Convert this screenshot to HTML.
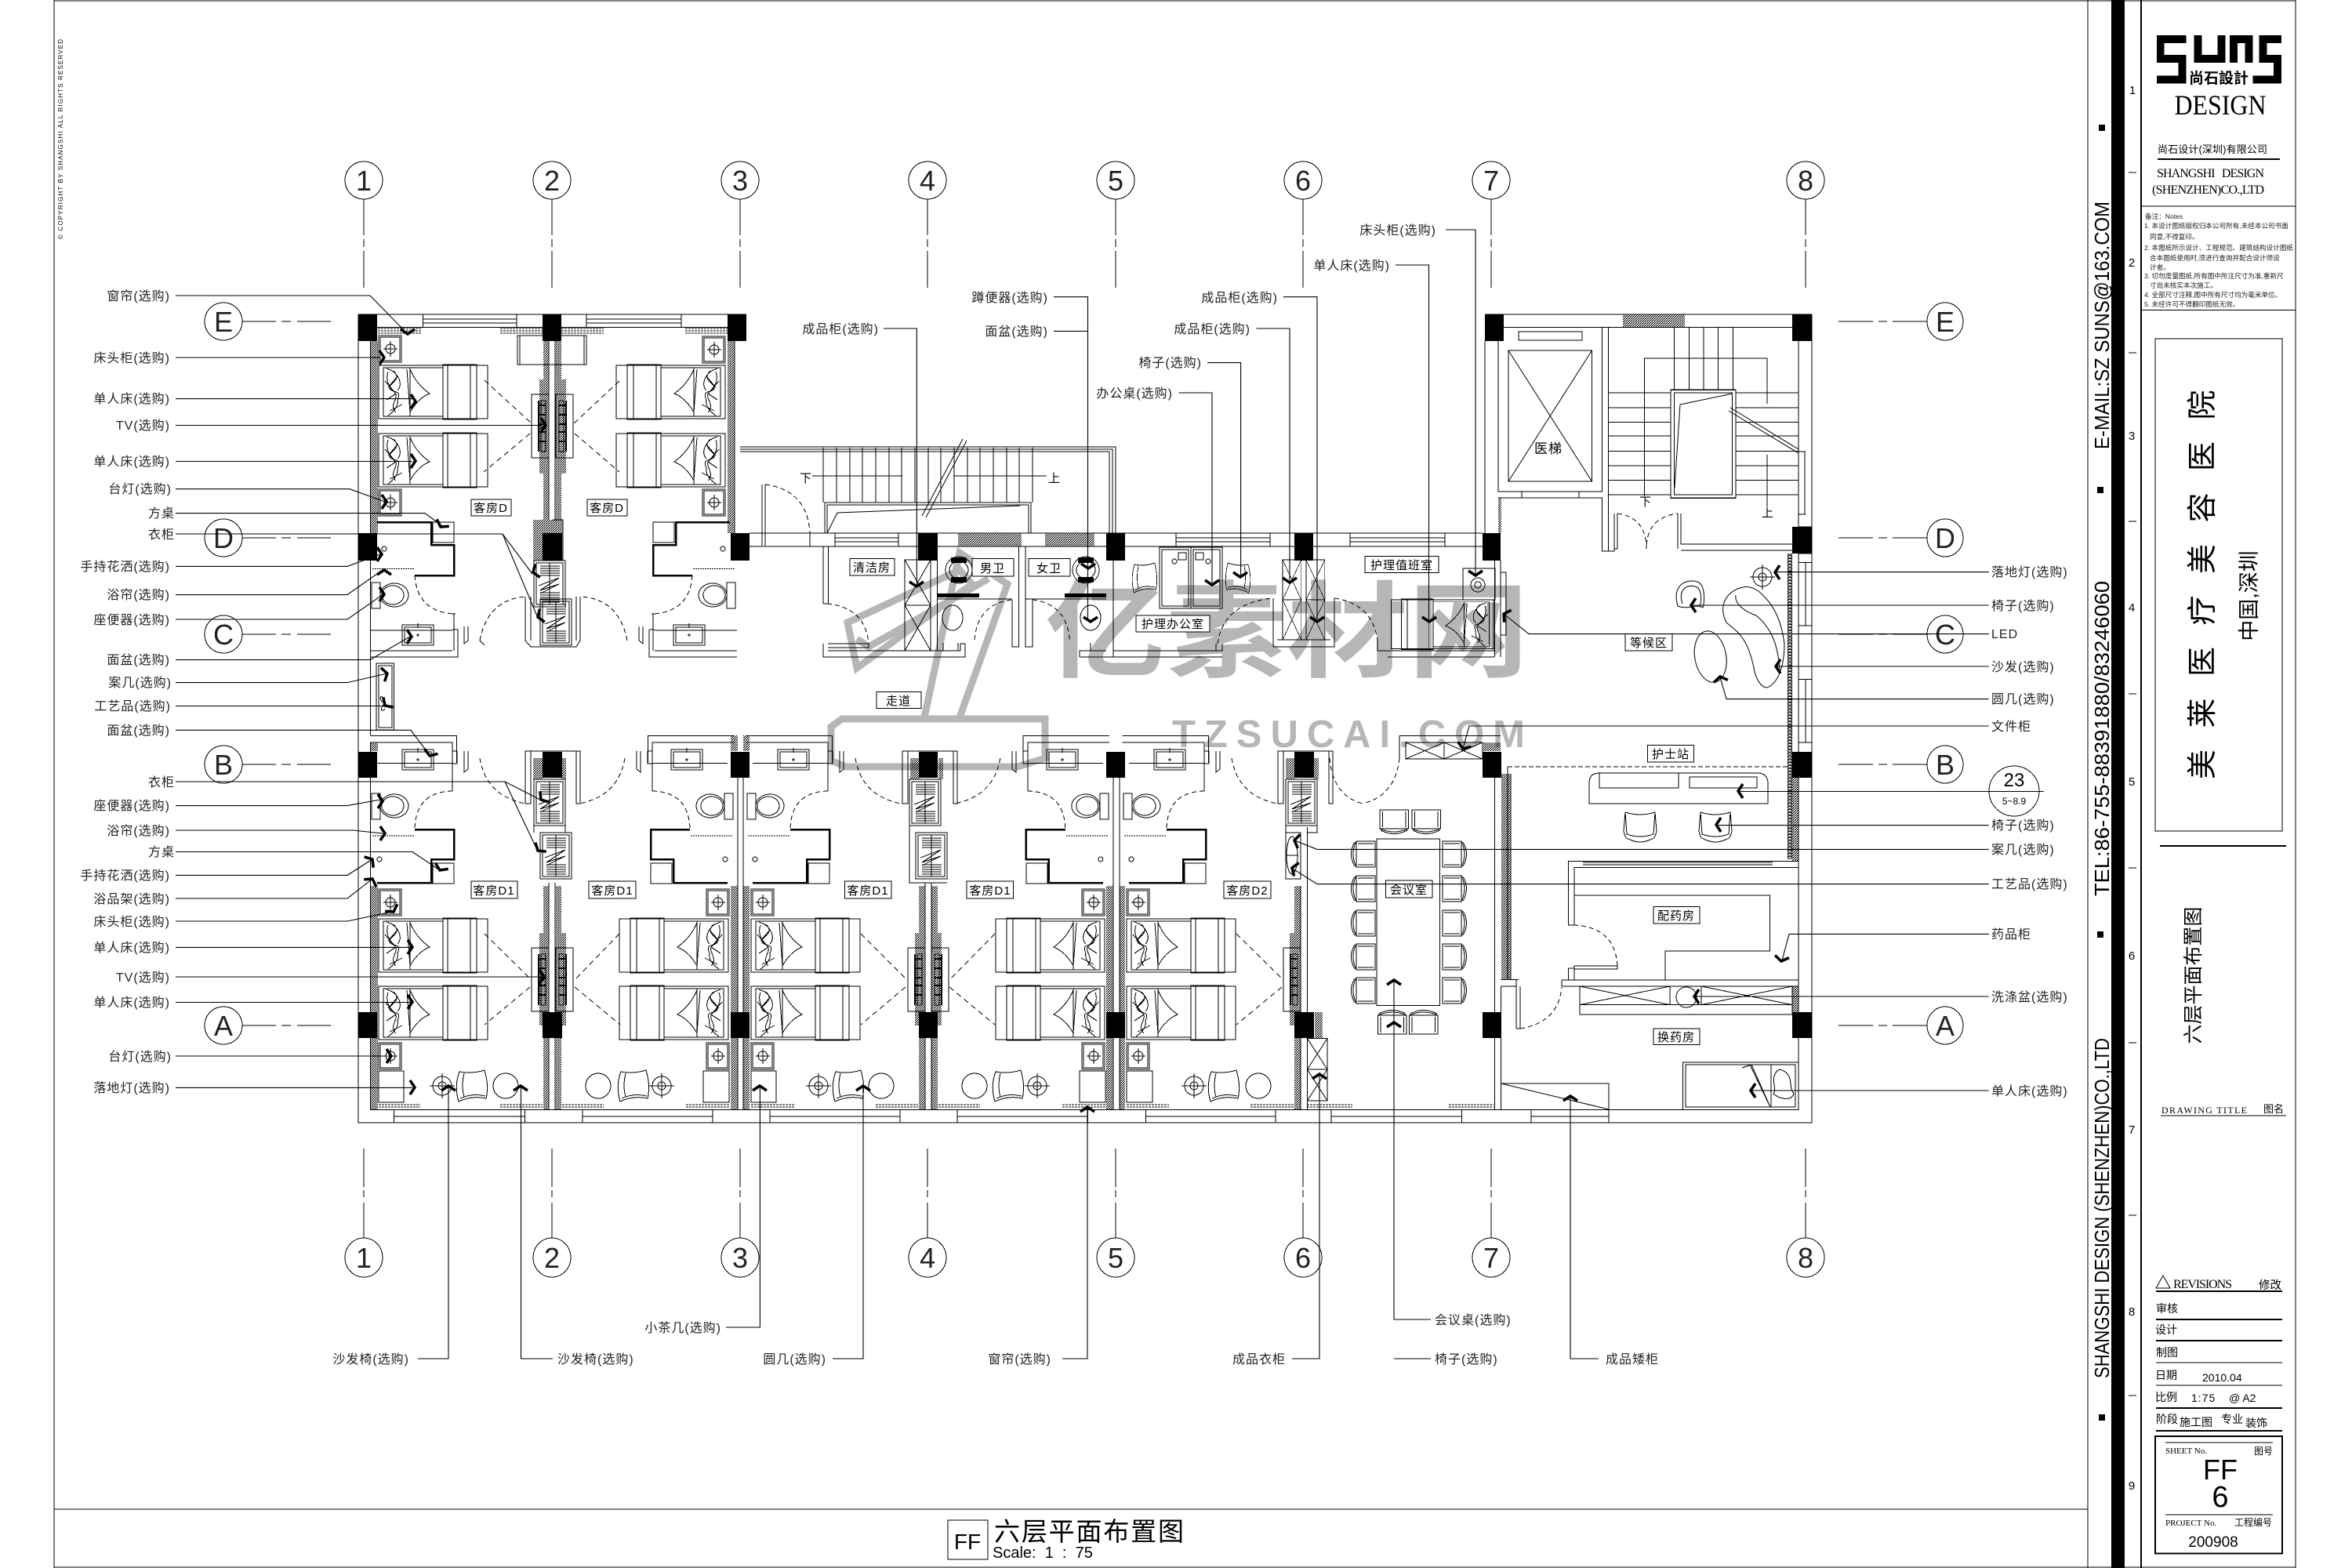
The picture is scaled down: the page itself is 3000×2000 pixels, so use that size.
<!DOCTYPE html>
<html lang="zh">
<head>
<meta charset="utf-8">
<title>六层平面布置图</title>
<style>
html,body{margin:0;padding:0;background:#fff}
svg{display:block}
text{font-family:"Liberation Sans","Noto Sans CJK SC",sans-serif;fill:#000;stroke:none}
.l{font-size:16px;letter-spacing:1px;text-anchor:end;fill:#222}
.s{font-size:16px;letter-spacing:1px;fill:#222}
.r{font-size:15px;letter-spacing:1px;text-anchor:middle}
.g{font-size:36px;text-anchor:middle;fill:#222}
.serif{font-family:"Liberation Serif","Noto Serif CJK SC",serif}
.n{font-size:8.6px;fill:#222}
.t{font-size:14px}
</style>
</head>
<body>
<svg xmlns="http://www.w3.org/2000/svg" width="3000" height="2000" viewBox="0 0 3000 2000" fill="none" stroke="#000" stroke-width="1" shape-rendering="crispEdges">
<defs>
<pattern id="h" width="3" height="3" patternUnits="userSpaceOnUse"><path d="M0 3L3 0" stroke="#000" stroke-width="1"/></pattern>
<pattern id="q" width="6" height="4" patternUnits="userSpaceOnUse"><rect x=".5" y=".5" width="5" height="2.5" stroke="#000" stroke-width="1" fill="none"/></pattern>
<g id="ar"><path d="M-6 -9L0 0L-6 9" stroke-width="3.5"/></g>
<g id="bed">
<rect x="0" y="0" width="139" height="68"/><rect x="6" y="3" width="76" height="62"/>
<rect x="82" y="-1" width="43" height="70"/><path d="M88 -1V69M117 -1V69"/>
<path d="M40 3V65M40 5Q48 24 65 36Q50 42 40 60M36 5L40 60"/>
<path d="M10 4L20 8C30 20 12 22 14 30C18 36 30 30 24 44C26 52 18 60 12 64M12 8C8 18 14 30 20 34C28 40 12 50 22 60M8 20L22 36L10 44M16 6C28 14 30 26 24 32M14 58L30 50M24 14L12 28"/>
</g>
<g id="ns"><rect x="0" y="0" width="29" height="34"/><rect x="2" y="2" width="25" height="30"/><circle cx="15" cy="17" r="6"/><path d="M15 7V27M6 17H24"/></g>
<g id="ach"><path d="M4 2Q20 5 36 0Q42 20 38 36Q20 32 3 40Q-3 20 4 2Z"/><path d="M10 4Q6 20 10 34M5 36Q20 29 37 33"/></g>
<g id="lmp"><circle cx="0" cy="0" r="12"/><circle cx="0" cy="0" r="5"/><path d="M-16 0H16M0 -16V16"/></g>
<g id="toi"><rect x="0" y="0" width="11" height="33"/><ellipse cx="29" cy="16" rx="18" ry="15"/><ellipse cx="27" cy="16" rx="14" ry="12"/></g>
<g id="snk"><rect x="0" y="0" width="40" height="26"/><rect x="3" y="3" width="34" height="20"/><path d="M20 11V15M18 13H22M20 -2V4"/></g>
<g id="wr"><rect x="0" y="0" width="40" height="59"/><rect x="3" y="3" width="34" height="53"/>
<path d="M8 7H33M8 10H33M8 13H33M8 16H33M8 19H33M8 41H33M8 44H33M8 47H33M8 50H33M8 53H33M20 3V56M6 32L32 22L8 38L32 30L8 42"/></g>
<g id="tv"><rect x="0" y="0" width="22" height="81"/><rect x="12" y="8" width="6" height="65"/><path d="M10 14H18M10 26H18M10 38H18M10 48H18M10 60H18M9 8V73" stroke-width="2"/></g>
<g id="cc"><path d="M8 1H32V34H8Z"/><path d="M8 1Q0 17 8 34M6 2Q-3 17 6 33M10 4H30M10 31H30"/></g>
<g id="ch"><path d="M2 2Q21 8 40 2L38 30Q21 36 4 30Z"/><path d="M0 26Q2 36 6 36Q21 44 36 36Q40 36 42 26M0 26L2 2M42 26L40 2"/></g>
<g id="xc"><rect x="0" y="0" width="33" height="116"/><path d="M0 0L33 58L0 116M33 0L0 58L33 116M0 58H33"/></g>
<g id="tb">
<path d="M481 666H550V695H579V734H529" stroke-width="2.5"/>
<rect x="552" y="666" width="27" height="26"/>
<path d="M475 725.5H529" stroke-dasharray="2 1"/>
<path d="M529 734Q532 780 579 783" stroke-dasharray="6 4"/>
<path d="M579 783V830M472 804H577M472 830H577M472 838H584V803M577 783H581M577 803H584"/>
<path d="M592 799V821L597 817V799"/>
<use href="#snk" x="513" y="797"/>
<use href="#toi" transform="translate(474,743)"/>
<path d="M612 817Q622 765 670 761" stroke-dasharray="6 4"/>
<circle cx="490" cy="700" r="3"/>
</g>
<g id="bb">
<path d="M472.6 938.7H582.6V973M472.6 947H577V1009M481 973.6H577M577 958H583V974H577"/>
<path d="M592 958V985L597 981V958"/>
<use href="#snk" x="513" y="956"/>
<use href="#toi" transform="translate(474,1012)"/>
<path d="M577 1009Q530 1010 529 1058" stroke-dasharray="6 4"/>
<path d="M529 1058H579V1096H550V1126H481" stroke-width="2.5"/>
<rect x="552" y="1101" width="27" height="26"/>
<path d="M475 1066H529" stroke-dasharray="2 1"/>
<path d="M612 967Q620 1015 670 1025" stroke-dasharray="6 4"/>
<circle cx="484" cy="1096" r="3"/>
</g>
<g id="lf">
<rect x="670" y="958" width="7" height="67"/><rect x="735" y="958" width="5" height="67"/>
<path d="M670 958H740" />
<rect x="680" y="967" width="12" height="27" fill="url(#h)" stroke="none"/>
<rect x="716" y="967" width="6" height="27" fill="url(#h)" stroke="none"/>
</g>
</defs>

<!-- watermark -->
<g shape-rendering="geometricPrecision">
<g fill="none" stroke="#b6b6b6" stroke-width="9" stroke-linejoin="miter">
<path d="M1060 927L1074 917H1333V967L1298 978H1078L1060 970Z"/>
<path d="M1179 915L1224 705L1285 745L1224 915"/>
<path d="M1081 794L1224 727L1240 745L1093 852Z"/>
<path d="M1093 815L1108 825L1261 738"/>
</g>
<text transform="translate(1333,853) scale(1,.88)" font-size="152" font-weight="700" textLength="617" lengthAdjust="spacingAndGlyphs" style="fill:#b6b6b6">亿素材网</text>
<text x="1495" y="953" font-size="49" font-weight="700" textLength="450" style="fill:#b6b6b6">TZSUCAI.COM</text>
</g>

<!-- frame -->
<path d="M69 0V2000M69 1H2928M2663 0V2000M69 1925H2663M69 1999H2928M2928 0V2000" stroke-width="1.4"/>
<rect x="2693" y="0" width="17" height="2000" fill="#000" stroke="none"/>
<path d="M2731 0V2000" stroke-width="2.2"/>
<g stroke="none" fill="#000">
<rect x="2677" y="159" width="8" height="8"/><rect x="2675" y="621" width="8" height="8"/><rect x="2675" y="1188" width="8" height="8"/><rect x="2677" y="1804" width="8" height="8"/>
</g>
<g transform="translate(80,305) rotate(-90)"><text x="0" y="0" font-size="8" textLength="255">© COPYRIGHT BY SHANGSHI ALL RIGHTS RESERVED</text></g>
<g font-size="26">
<text transform="translate(2690,1758) rotate(-90)" font-size="26" textLength="434" lengthAdjust="spacingAndGlyphs">SHANGSHI DESIGN (SHENZHEN)CO.,LTD</text>
<text transform="translate(2690,1143) rotate(-90)" font-size="26" textLength="402" lengthAdjust="spacingAndGlyphs">TEL:86-755-88391880/83246060</text>
<text transform="translate(2690,573) rotate(-90)" font-size="26" textLength="316" lengthAdjust="spacingAndGlyphs">E-MAIL:SZ SUNS@163.COM</text>
</g>
<g font-size="15" text-anchor="middle" style="font-size:15px">
<text x="2720" y="120" text-anchor="middle">1</text><text x="2719" y="340" text-anchor="middle">2</text><text x="2719" y="561" text-anchor="middle">3</text><text x="2719" y="780" text-anchor="middle">4</text><text x="2719" y="1002" text-anchor="middle">5</text><text x="2719" y="1224" text-anchor="middle">6</text><text x="2719" y="1446" text-anchor="middle">7</text><text x="2719" y="1678" text-anchor="middle">8</text><text x="2719" y="1900" text-anchor="middle">9</text>
</g>
<path d="M2715 220H2725M2715 450H2725M2715 665H2725M2715 885H2725M2715 1107H2725M2715 1330H2725M2715 1550H2725M2715 1780H2725M2715 1999H2725"/>

<!-- axes -->
<g>
<ellipse cx="464" cy="230" rx="24" ry="24"/><ellipse cx="704" cy="230" rx="24" ry="24"/><ellipse cx="944" cy="230" rx="24" ry="24"/><ellipse cx="1183" cy="230" rx="24" ry="24"/><ellipse cx="1423" cy="230" rx="24" ry="24"/><ellipse cx="1662" cy="230" rx="24" ry="24"/><ellipse cx="1902" cy="230" rx="24" ry="24"/><ellipse cx="2303" cy="230" rx="24" ry="24"/>
<ellipse cx="464" cy="1604" rx="24" ry="25"/><ellipse cx="704" cy="1604" rx="24" ry="25"/><ellipse cx="944" cy="1604" rx="24" ry="25"/><ellipse cx="1183" cy="1604" rx="24" ry="25"/><ellipse cx="1423" cy="1604" rx="24" ry="25"/><ellipse cx="1662" cy="1604" rx="24" ry="25"/><ellipse cx="1902" cy="1604" rx="24" ry="25"/><ellipse cx="2303" cy="1604" rx="24" ry="25"/>
<ellipse cx="285" cy="410" rx="24" ry="24"/><ellipse cx="285" cy="686" rx="24" ry="24"/><ellipse cx="285" cy="809" rx="24" ry="24"/><ellipse cx="285" cy="975" rx="24" ry="24"/><ellipse cx="285" cy="1308" rx="24" ry="24"/>
<ellipse cx="2481" cy="410" rx="23" ry="24"/><ellipse cx="2481" cy="686" rx="23" ry="24"/><ellipse cx="2481" cy="809" rx="23" ry="24"/><ellipse cx="2481" cy="975" rx="23" ry="24"/><ellipse cx="2481" cy="1308" rx="23" ry="24"/>
<path d="M464 254V300M464 305V315M464 320V367M704 254V300M704 305V315M704 320V367M944 254V300M944 305V315M944 320V367M1183 254V300M1183 305V315M1183 320V367M1423 254V300M1423 305V315M1423 320V367M1662 254V300M1662 305V315M1662 320V367M1902 254V300M1902 305V315M1902 320V367M2303 254V300M2303 305V315M2303 320V367"/>
<path d="M464 1465V1514M464 1518V1527M464 1534V1579M704 1465V1514M704 1518V1527M704 1534V1579M944 1465V1514M944 1518V1527M944 1534V1579M1183 1465V1514M1183 1518V1527M1183 1534V1579M1423 1465V1514M1423 1518V1527M1423 1534V1579M1662 1465V1514M1662 1518V1527M1662 1534V1579M1902 1465V1514M1902 1518V1527M1902 1534V1579M2303 1465V1514M2303 1518V1527M2303 1534V1579"/>
<path d="M309 410H352M359 410H371M379 410H422M309 686H352M359 686H371M379 686H422M309 809H352M359 809H371M379 809H422M309 975H352M359 975H371M379 975H422M309 1308H352M359 1308H371M379 1308H422"/>
<path d="M2345 410H2389M2396 410H2407M2414 410H2458M2345 686H2389M2396 686H2407M2414 686H2458M2345 809H2389M2396 809H2407M2414 809H2458M2345 975H2389M2396 975H2407M2414 975H2458M2345 1308H2389M2396 1308H2407M2414 1308H2458"/>
</g>
<g class="ax">
<text class="g" x="464" y="243">1</text><text class="g" x="704" y="243">2</text><text class="g" x="944" y="243">3</text><text class="g" x="1183" y="243">4</text><text class="g" x="1423" y="243">5</text><text class="g" x="1662" y="243">6</text><text class="g" x="1902" y="243">7</text><text class="g" x="2303" y="243">8</text>
<text class="g" x="464" y="1617">1</text><text class="g" x="704" y="1617">2</text><text class="g" x="944" y="1617">3</text><text class="g" x="1183" y="1617">4</text><text class="g" x="1423" y="1617">5</text><text class="g" x="1662" y="1617">6</text><text class="g" x="1902" y="1617">7</text><text class="g" x="2303" y="1617">8</text>
<text class="g" x="285" y="423">E</text><text class="g" x="285" y="699">D</text><text class="g" x="285" y="822">C</text><text class="g" x="285" y="988">B</text><text class="g" x="285" y="1321">A</text>
<text class="g" x="2481" y="423">E</text><text class="g" x="2481" y="699">D</text><text class="g" x="2481" y="822">C</text><text class="g" x="2481" y="988">B</text><text class="g" x="2481" y="1321">A</text>
</g>

<!-- outer walls -->
<path d="M457 401H952M472.6 417.5H928M457 401V1432H2311V401M472.6 435V938M472.6 947V1415.5H2294M1894 401H2311M1918 417.5H2286M2294 435V1415.5"/>
<!-- top windows -->
<path d="M539.5 401V417.5M659 401V417.5M539.5 407H659M539.5 412H659M748 401V417.5M869 401V417.5M748 407H869M748 412H869"/>
<!-- bottom windows -->
<path d="M502.5 1415.5V1432M669.6 1415.5V1432M502.5 1424H669.6M743 1415.5V1432M909 1415.5V1432M743 1424H909M982 1415.5V1432M1148 1415.5V1432M982 1424H1148M1221 1415.5V1432M1387.5 1415.5V1432M1221 1424H1387.5M1461.5 1415.5V1432M1627 1415.5V1432M1461.5 1424H1627M1698 1415.5V1432M1864.5 1415.5V1432M1698 1424H1864.5M1953 1415.5V1432M2052 1382V1432M1953 1424H2052"/>
<!-- curtains -->
<g stroke-dasharray="3 1" >
<path d="M482 419H537M482 422H537M482 425H537M638 419H692M638 422H692M638 425H692M716 419H770M716 422H770M716 425H770M874 419H928M874 422H928M874 425H928"/>
<path d="M483 1409H536M483 1412H536M638 1409H692M638 1412H692M717 1409H770M717 1412H770M875 1409H931M875 1412H931M958 1409H1013M958 1412H1013M1117 1409H1171M1117 1412H1171M1197 1409H1250M1197 1412H1250M1355 1409H1410M1355 1412H1410M1437 1409H1491M1437 1412H1491M1595 1409H1650M1595 1412H1650M1667 1409H1725M1667 1412H1725M1848 1409H1905M1848 1412H1905"/>
</g>
<!-- hatch walls -->
<g fill="url(#h)" stroke="none">
<rect x="473" y="435" width="9" height="245"/><rect x="473" y="1130" width="9" height="285"/>
<rect x="693" y="435" width="7" height="228"/><rect x="709" y="435" width="7" height="228"/>
<rect x="688" y="484" width="12" height="120"/><rect x="709" y="484" width="13" height="120"/>
<rect x="680" y="663" width="38" height="52"/>
<rect x="928" y="435" width="9" height="245"/>
<rect x="693" y="1130" width="7" height="285"/><rect x="709" y="1130" width="7" height="285"/>
<rect x="688" y="1190" width="12" height="118"/><rect x="709" y="1190" width="13" height="118"/>
<rect x="932" y="1130" width="9" height="285"/><rect x="948" y="1130" width="8" height="285"/>
<rect x="1172" y="1130" width="8" height="285"/><rect x="1188" y="1130" width="8" height="285"/>
<rect x="1167" y="1190" width="13" height="118"/><rect x="1188" y="1190" width="13" height="118"/>
<rect x="1411" y="1130" width="9" height="285"/><rect x="1428" y="1130" width="7" height="285"/>
<rect x="1651" y="1130" width="8" height="285"/><rect x="1645" y="1190" width="14" height="118"/>
<rect x="1677" y="1291" width="10" height="33"/>
<rect x="1915" y="987" width="12" height="263"/>
<rect x="1222" y="680" width="81" height="17"/><rect x="1333" y="680" width="63" height="17"/>
<rect x="2070" y="401" width="79" height="16.5"/>
<rect x="1911" y="635" width="4" height="45"/>
<rect x="2286" y="991" width="8" height="107"/><rect x="2286" y="1258" width="8" height="33"/>
<rect x="1892" y="947" width="22" height="11"/>
<rect x="932" y="938" width="9" height="20"/><rect x="948" y="938" width="8" height="20"/>
<rect x="473" y="947" width="9" height="11"/>
</g>
<rect x="2280" y="706" width="6" height="390" fill="url(#q)" stroke="none"/>
<!-- columns -->
<g fill="#000" stroke="none">
<rect x="457" y="401" width="24" height="34"/><rect x="692" y="401" width="24" height="34"/><rect x="928" y="401" width="24" height="34"/><rect x="1894" y="401" width="24" height="34"/><rect x="2286" y="401" width="25" height="34"/>
<rect x="457" y="680" width="24" height="35"/><rect x="692" y="680" width="25" height="35"/><rect x="932" y="680" width="24" height="35"/><rect x="1171" y="680" width="25" height="35"/><rect x="1411" y="680" width="24" height="35"/><rect x="1651" y="680" width="24" height="35"/><rect x="1891" y="680" width="23" height="35"/><rect x="2286" y="672" width="25" height="34"/>
<rect x="457" y="959" width="24" height="33"/><rect x="692" y="959" width="25" height="33"/><rect x="932" y="959" width="24" height="33"/><rect x="1172" y="959" width="24" height="33"/><rect x="1411" y="959" width="24" height="33"/><rect x="1651" y="959" width="25" height="33"/><rect x="1891" y="959" width="24" height="33"/><rect x="2286" y="959" width="25" height="33"/>
<rect x="457" y="1291" width="24" height="33"/><rect x="692" y="1291" width="25" height="33"/><rect x="932" y="1291" width="24" height="33"/><rect x="1172" y="1291" width="24" height="33"/><rect x="1411" y="1291" width="24" height="33"/><rect x="1651" y="1291" width="25" height="33"/><rect x="1891" y="1291" width="24" height="33"/><rect x="2286" y="1291" width="25" height="33"/>
</g>
<!-- inner wall lines -->
<path d="M700 435V663M708 435V663M937 435V680M941 1126V1415M948 1126V1415M700 1126V1415M708 1126V1415M1180 1126V1415M1188 1126V1415M1420 1126V1415M1428 1126V1415M1659 1130V1415M1667.5 1055V1415M1420 992V1126M1428 992V1126M941 992V1126M948 992V1126"/>
<path d="M1906.6 992V1415.5M1914.5 1258V1415.5M1914 715V838M1906.6 715V838"/>

<!-- baths -->
<use href="#tb"/>
<use href="#tb" transform="translate(1412,0) scale(-1,1)"/>
<use href="#bb"/>
<use href="#bb" transform="translate(1409,0) scale(-1,1)"/>
<use href="#bb" transform="translate(479,0)"/>
<use href="#bb" transform="translate(1887.8,0) scale(-1,1)"/>
<use href="#bb" transform="translate(959,0)"/>
<use href="#lf"/><use href="#lf" transform="translate(481,0)"/><use href="#lf" transform="translate(960,0)"/>
<!-- top wardrobe area leaves -->
<path d="M670 761V817M677 761V817M735 761V817M740 761V817M670 817L677 825H735L740 817M705 663H718V715"/>
<path d="M612 817L618 823"/>
<!-- corridor console -->
<rect x="480" y="846" width="22.5" height="85"/><rect x="483" y="849" width="17" height="79"/>
<path d="M489 890C483 885 484 895 491 897C484 903 486 910 491 904"/>

<!-- wardrobes -->
<use href="#wr" x="681" y="715" transform="translate(0,0)"/><use href="#wr" x="689" y="764"/>
<use href="#wr" x="681" y="994"/><use href="#wr" x="689" y="1062"/>
<use href="#wr" x="1160" y="994"/><use href="#wr" x="1168" y="1062"/>
<use href="#wr" x="1640" y="994"/>
<path d="M681 1053V1062M721 1053V1062M1160 1053V1062M1208 1126H1160V1062M1640 1053H1680M1640 1053V1121H1659"/>
<rect x="1640" y="1062" width="19" height="59"/><ellipse cx="1648" cy="1091" rx="7" ry="24"/><path d="M1641 1091H1656"/>

<!-- TVs -->
<use href="#tv" x="678" y="503"/><use href="#tv" transform="translate(731,503) scale(-1,1)"/>
<use href="#tv" x="678" y="1209"/><use href="#tv" transform="translate(731,1209) scale(-1,1)"/>
<use href="#tv" x="1158" y="1209"/><use href="#tv" transform="translate(1210,1209) scale(-1,1)"/>
<use href="#tv" x="1637" y="1209"/>
<g stroke-dasharray="7 5" shape-rendering="geometricPrecision">
<path d="M618 485L678 540M676 553L617 602M790 486L732 540M733 553L790 602"/>
<path d="M618 1191L678 1250M676 1259L618 1307M790 1191L733 1250M733 1259L791 1307"/>
<path d="M1098 1191L1157 1250M1155 1259L1098 1307M1269 1191L1211 1250M1211 1259L1269 1307"/>
<path d="M1577 1191L1637 1250M1635 1259L1577 1307"/>
</g>

<!-- beds -->
<use href="#bed" x="483" y="466"/><use href="#bed" x="483" y="553"/>
<use href="#bed" transform="translate(925,466) scale(-1,1)"/><use href="#bed" transform="translate(925,553) scale(-1,1)"/>
<use href="#bed" x="483" y="1172"/><use href="#bed" x="483" y="1258"/>
<use href="#bed" transform="translate(929,1172) scale(-1,1)"/><use href="#bed" transform="translate(929,1258) scale(-1,1)"/>
<use href="#bed" x="958" y="1172"/><use href="#bed" x="958" y="1258"/>
<use href="#bed" transform="translate(1409,1172) scale(-1,1)"/><use href="#bed" transform="translate(1409,1258) scale(-1,1)"/>
<use href="#bed" x="1437" y="1172"/><use href="#bed" x="1437" y="1258"/>
<!-- nightstands -->
<use href="#ns" x="483" y="428"/><use href="#ns" x="483" y="624"/><use href="#ns" x="896" y="429"/><use href="#ns" x="896" y="624"/>
<use href="#ns" x="483" y="1134"/><use href="#ns" x="483" y="1330"/><use href="#ns" x="901" y="1134"/><use href="#ns" x="901" y="1330"/><use href="#ns" x="958" y="1134"/><use href="#ns" x="958" y="1330"/><use href="#ns" x="1380" y="1134"/><use href="#ns" x="1380" y="1330"/><use href="#ns" x="1437" y="1134"/><use href="#ns" x="1437" y="1330"/>
<!-- room lounge row -->
<rect x="483" y="1366" width="32" height="40"/><rect x="897" y="1366" width="33" height="40"/><rect x="958" y="1366" width="32" height="40"/><rect x="1377" y="1366" width="33" height="40"/><rect x="1437" y="1366" width="33" height="40"/>
<use href="#lmp" x="564" y="1385"/><use href="#lmp" x="844" y="1385"/><use href="#lmp" x="1044" y="1385"/><use href="#lmp" x="1323" y="1385"/><use href="#lmp" x="1523" y="1385"/>
<use href="#ach" x="582" y="1365"/><use href="#ach" x="788" y="1365"/><use href="#ach" x="1062" y="1365"/><use href="#ach" x="1266" y="1365"/><use href="#ach" x="1541" y="1365"/>
<ellipse cx="645" cy="1385" rx="16" ry="16"/><ellipse cx="763" cy="1385" rx="16" ry="16"/><ellipse cx="1124" cy="1385" rx="16" ry="16"/><ellipse cx="1243" cy="1385" rx="16" ry="16"/><ellipse cx="1605" cy="1385" rx="16" ry="16"/>
<!-- top-room small cabinet -->
<rect x="660" y="428" width="88" height="37"/><path d="M663 428V465M745 428V465"/>

<!-- central stair -->
<path d="M944 570H1423V680M944 573H1419V680M944 576H1415V680"/>
<path d="M1050 571V641M1067 571V641M1084 571V641M1100 571V641M1117 571V641M1134 571V641M1150 571V641M1167 571V641M1184 571V641M1200 571V641M1217 571V641M1234 571V641M1250 571V641M1267 571V641M1284 571V641M1300 571V641M1317 571V641"/>
<path d="M1036 607H1151M1216 607H1335"/>
<path d="M1176 658L1228 560M1181 660L1233 562" shape-rendering="geometricPrecision"/>
<path d="M1052 680V641H1315V680M1055 680V644H1312V680"/>
<path d="M1055 680L1068 654L1301 645" shape-rendering="geometricPrecision"/>
<!-- D row wall -->
<path d="M956 680H1891M956 697H1891M1065 680V697M1146 680V697M1065 686H1146M1065 691H1146M1500 680V697M1620 680V697M1500 686H1620M1500 691H1620M1722 680V697M1843 680V697M1722 686H1843M1722 691H1843M1033 680V697H1065V680"/>
<path d="M972 618V696M976 618V696"/>
<path d="M976 618Q1030 625 1033 680" stroke-dasharray="6 4"/>
<!-- service rooms -->
<path d="M1050 697V770M1056.5 697V770H1050M1050 821V838H1231V821M1056 830H1225M1056 821H1108V826H1056"/>
<path d="M1055 770Q1104 775 1108 821" stroke-dasharray="6 4"/>
<use href="#xc" x="1154" y="714"/>
<path d="M1187 697V830M1195.5 697V830M1299.5 697V765M1308 697V765M1195 764H1291M1308 764H1411M1291 765V825H1299.5V765M1308 765V825H1317V765"/>
<path d="M1243 816Q1247 770 1291 765M1317 765Q1360 770 1364.5 816" stroke-dasharray="6 4"/>
<rect x="1196" y="757" width="53" height="5" fill="#000" stroke="none"/><rect x="1358" y="757" width="53" height="5" fill="#000" stroke="none"/>
<ellipse cx="1223" cy="727" rx="17" ry="17"/><ellipse cx="1223" cy="727" rx="12" ry="11"/><rect x="1213" y="711" width="20" height="7" fill="#000" stroke="none"/><rect x="1213" y="736" width="20" height="7" fill="#000" stroke="none"/>
<ellipse cx="1385" cy="727" rx="17" ry="17"/><ellipse cx="1385" cy="727" rx="12" ry="11"/><rect x="1375" y="711" width="20" height="7" fill="#000" stroke="none"/><rect x="1375" y="736" width="20" height="7" fill="#000" stroke="none"/>
<ellipse cx="1215" cy="788" rx="13" ry="16"/><ellipse cx="1391" cy="788" rx="13" ry="16"/>
<path d="M1195 830H1225M1377 838H1559M1420 830H1551M1411 830H1377V838M1420 697V838M1551 821V830H1559V821M1231 821H1225V830M1203 830V820M1222 830V820M1391 830V820"/>
<path d="M1553 821Q1560 770 1623 763M1702 763Q1750 770 1757 816" stroke-dasharray="6 4"/>
<path d="M1624 763V825H1702V763M1629 816H1697"/>
<use href="#ach" transform="translate(1444,718) scale(.8,.95)"/><use href="#ach" transform="translate(1595,718) scale(-.8,.95)"/>
<rect x="1479" y="698" width="40" height="78"/><rect x="1519" y="698" width="40" height="78"/><rect x="1482" y="701" width="34" height="72"/><rect x="1522" y="701" width="34" height="72"/>
<rect x="1503" y="705" width="10" height="9"/><rect x="1525" y="705" width="10" height="9"/><circle cx="1498" cy="716" r="3"/><circle cx="1541" cy="716" r="3"/>
<use href="#xc" transform="translate(1636,714) scale(.72,.88)"/><use href="#xc" transform="translate(1666,714) scale(.72,.88)"/>
<path d="M1757 816V830H1906M1770 838H1906"/>
<use href="#bed" transform="translate(1905,765) scale(-.94,.92)"/>
<rect x="1866" y="725" width="41" height="40"/><circle cx="1885" cy="746" r="9"/><circle cx="1885" cy="746" r="4"/>
<rect x="1914" y="730" width="7" height="80"/>

<!-- lift + stair right -->
<path d="M1911 435V627H2043.5V417.5M2051.6 417.5V703H2043.5V635H1911M1894 435V680M1937 423H2018V434H1937ZM1924 447H2030.5V614H1924ZM1941 627V635M2014 627V635"/>
<path d="M1924 447L2030.5 614M2030.5 447L1924 614" shape-rendering="geometricPrecision"/>
<path d="M2052 501H2131M2214 501H2294M2052 520H2131M2214 520H2294M2052 538.5H2131M2214 538.5H2294M2052 556H2131M2214 556H2294M2052 575.5H2131M2214 575.5H2294M2052 594H2131M2214 594H2294M2052 612.6H2131M2214 612.6H2294M2052 631H2131M2214 631H2294"/>
<path d="M2135.6 417.5V497M2154.6 417.5V497M2173 417.5V497M2191.5 417.5V497M2210.4 417.5V497"/>
<rect x="2131" y="497.4" width="83" height="138" stroke-width="1.4"/><rect x="2135.6" y="501" width="74" height="130"/>
<path d="M2210 502L2143 516L2136 622" shape-rendering="geometricPrecision"/>
<path d="M2097.7 633V457H2253.8V515M2253.8 580V646"/>
<path d="M2205 524L2294 578M2207 520L2294 573" shape-rendering="geometricPrecision"/>
<path d="M2294 576H2303M2294 656H2303M2302 576V656M2294 672H2311"/>
<path d="M2059 655V703H2051.6M2063 655V700H2059M2140 655V700M2144 655V694H2286M2144 702H2286"/>
<path d="M2063 655Q2100 660 2100 700Q2100 660 2140 655" stroke-dasharray="6 4"/>
<!-- right windows -->
<path d="M2294 717.5H2311M2294 798H2311M2303 717.5V798M2294 866.6H2311M2294 947H2311M2303 866.6V947M2294 706H2311"/>

<!-- waiting furniture -->
<use href="#lmp" x="2248" y="736"/>
<g shape-rendering="geometricPrecision">
<path d="M2140 773C2132 745 2152 738 2165 742C2176 746 2174 770 2172 775C2164 770 2152 778 2140 773Z"/><path d="M2146 770C2140 752 2152 745 2162 748C2172 750 2170 770 2168 773"/>
<path d="M2224 749C2205 752 2190 770 2202 794C2215 805 2229 812 2237 852C2240 870 2250 880 2256 876C2268 870 2276 850 2276 821C2272 790 2262 770 2243 754Q2232 747 2224 749Z"/>
<path d="M2214 759C2212 770 2225 780 2240 785C2258 800 2268 820 2270 855"/>
<ellipse cx="2181.7" cy="837.6" rx="20" ry="33" transform="rotate(-10 2181.7 837.6)"/>
</g>
<!-- nurse station -->
<path d="M1923 978H2280" stroke-dasharray="6 3"/>
<path d="M1923 978V1249M1927 987V1249"/>
<path d="M2027 1025V999Q2027 986 2040 986H2241Q2255 986 2255 999V1025Z"/><rect x="2040" y="986" width="101" height="19"/><rect x="2155" y="991" width="86" height="14"/>
<use href="#ch" x="2071" y="1034"/><use href="#ch" x="2167" y="1034"/>
<!-- pharmacy -->
<path d="M2000.7 1180V1098.6H2294M2008 1180V1106.6H2294M2019 1100H2261M2019 1103H2261M2008 1142H2257.6V1213H2124V1250" stroke-width="1"/>
<path d="M2000 1180H2008V1177"/>
<path d="M2007 1180Q2060 1182 2063 1232" stroke-dasharray="6 4"/>
<path d="M2008 1232H2063V1236H2008ZM2000.7 1235H2008V1250M2000.7 1235V1250M1992 1250H2294M1992 1258H2294M1992 1250V1258"/>
<rect x="2015" y="1258" width="271" height="36"/><path d="M2015 1281.6H2286M2015 1258H2130L2015 1281.6H2130L2015 1258ZM2170 1258H2286L2170 1281.6H2286L2170 1258ZM2130 1258V1281.6M2170 1258V1281.6"/>
<circle cx="2151" cy="1272" r="13"/>
<path d="M1914.5 1258H1934M1914.5 1249.5H1937M1934 1250V1312M1939 1258V1312H1934"/>
<path d="M1939 1312Q1988 1304 1992 1259" stroke-dasharray="6 4"/>
<rect x="2146.5" y="1355" width="147.5" height="60.5"/><rect x="2150" y="1358" width="140" height="54"/>
<path d="M2259 1358V1412M2222 1362L2234 1358L2258 1412M2232 1358L2258 1412"/>
<path d="M2270 1364C2255 1372 2268 1390 2262 1395C2270 1402 2285 1405 2288 1395C2280 1385 2290 1370 2270 1364Z"/>
<rect x="1914.5" y="1382" width="137.5" height="33.5"/><path d="M1914.5 1382L2052 1415" shape-rendering="geometricPrecision"/>
<!-- conference -->
<rect x="1756" y="1070" width="80.5" height="212.5"/>
<use href="#cc" transform="translate(1759,1065) rotate(-90) scale(1,1.1)"/>
<use href="#cc" transform="translate(1800,1065) rotate(-90) scale(1,1.1)"/>
<use href="#cc" transform="translate(1795,1287) rotate(90) scale(1,1.1)"/>
<use href="#cc" transform="translate(1835,1287) rotate(90) scale(1,1.1)"/>
<use href="#cc" x="1722" y="1072"/><use href="#cc" x="1722" y="1116"/><use href="#cc" x="1722" y="1160"/><use href="#cc" x="1722" y="1203"/><use href="#cc" x="1722" y="1246"/>
<use href="#cc" transform="translate(1872,1072) scale(-1,1)"/><use href="#cc" transform="translate(1872,1116) scale(-1,1)"/><use href="#cc" transform="translate(1872,1160) scale(-1,1)"/><use href="#cc" transform="translate(1872,1203) scale(-1,1)"/><use href="#cc" transform="translate(1872,1246) scale(-1,1)"/>
<path d="M1785 938.7H1914M1792 947H1891M1785 938.7V958M1785 958V967"/>
<rect x="1793" y="947" width="98" height="21"/><path d="M1793 947L1842 968L1891 947M1793 968L1842 947L1891 968M1842 947V968"/>
<path d="M1785 967Q1780 1015 1738 1025M1696 967Q1700 1015 1738 1025" stroke-dasharray="6 4"/>
<path d="M1667.5 1062H1680V1053M1667.5 1062V1324"/>
<rect x="1667.5" y="1324.5" width="25.5" height="79.5"/><path d="M1667.5 1324.5L1693 1364L1667.5 1404M1693 1324.5L1667.5 1364L1693 1404M1667.5 1364H1693"/>

<!-- room labels -->
<g fill="#fff" shape-rendering="crispEdges">
<rect x="601" y="637" width="51" height="21"/><rect x="749" y="637" width="51" height="21"/>
<rect x="601" y="1124" width="59" height="22"/><rect x="751" y="1124" width="60" height="22"/><rect x="1077.5" y="1124" width="59.5" height="22"/><rect x="1233" y="1124" width="59.5" height="22"/><rect x="1561" y="1124" width="60" height="22"/>
<rect x="1084" y="712.6" width="57" height="21.5"/><rect x="1240" y="712.6" width="53" height="22.5"/><rect x="1312" y="712.6" width="53" height="22.5"/>
<rect x="1449" y="785" width="94" height="21"/><rect x="1741" y="709.5" width="94" height="21"/>
<rect x="1118" y="882.7" width="57" height="21"/><rect x="2073" y="808.6" width="60" height="21.5"/><rect x="2101.5" y="950.5" width="59" height="21.5"/>
<rect x="2109" y="1156.6" width="59" height="21.5"/><rect x="2109" y="1312" width="59" height="20.5"/><rect x="1767.6" y="1123" width="59.4" height="22"/>
</g>
<g>
<text class="r" x="626" y="653">客房D</text><text class="r" x="774" y="653">客房D</text>
<text class="r" x="630" y="1141">客房D1</text><text class="r" x="781" y="1141">客房D1</text><text class="r" x="1107" y="1141">客房D1</text><text class="r" x="1263" y="1141">客房D1</text><text class="r" x="1591" y="1141">客房D2</text>
<text class="r" x="1112" y="729">清洁房</text><text class="r" x="1266" y="730">男卫</text><text class="r" x="1338" y="730">女卫</text>
<text class="r" x="1496" y="801">护理办公室</text><text class="r" x="1788" y="726">护理值班室</text>
<text class="r" x="1146" y="899">走道</text><text class="r" x="2103" y="825">等候区</text><text class="r" x="2131" y="967">护士站</text>
<text class="r" x="2138" y="1173">配药房</text><text class="r" x="2138" y="1328">换药房</text><text class="r" x="1797" y="1140">会议室</text>
<text class="r" x="1975" y="578" style="font-size:17px">医梯</text>
<text class="r" x="1028" y="615">下</text><text class="r" x="1345" y="615">上</text><text class="r" x="2099" y="645">下</text><text class="r" x="2255" y="659">上</text>
</g>

<!-- leaders -->
<g shape-rendering="geometricPrecision" stroke-width="1.1">
<path d="M224 377H472L520 426M224 456H485M224 508.6H526M224 542.5H692M224 588.5H526M224 623.7H446L491 640M224 654.6H542L564 671M224 681H641L679 732M641 681L685.6 787M224 722.4H443L485 707M224 758.6H443L488 727M224 790H443L488 758.6M224 841.6H472L523 812M224 870.6H443L494 859M224 900.5H491M224 931.3H524L548.5 964M224 997H644L689 1020M644 997L685.6 1085M224 1027.6H443L485 1020M224 1059H450L488 1063M224 1086.5H526L561 1110M224 1116.4H443L475 1096M224 1146H443L475 1121M224 1175H443L500 1163M224 1208.4H523M224 1246H692M224 1278.5H523M224 1347H497M224 1387.4H526"/>
<path d="M533 1733H572V1385M705 1733H664.5V1385M926 1693H969.4V1385M1062 1733H1101V1385M1355 1733H1387V1413M1648 1733H1683V1370M1825 1683H1778V1250M1778 1733H1825M2003 1398V1733H2039"/>
<path d="M1127 419H1169.4V745M1344 378.7H1387.5V790M1344 422.4H1387.5M1637 378.7H1680V790M1602.4 419H1645V740M1540 462.6H1582.6V734M1503.6 501H1546V743M1780 338H1822.5V790M1844 293H1882V732"/>
<path d="M2536.7 729.6H2264.6M2536.7 772H2159M2536.7 808.6H1950L1918 783M2536.7 850H2267M2536.7 891.6H2202L2194 863.5M2536.7 926H1874L1866 955M2607 1009.5H2218.6M2536.7 1052.6H2191.5M2536.7 1083.4H1680L1651.5 1072M2536.7 1127.6H1680L1648 1107.5M2536.7 1191.4H2282L2272.8 1226M2536.7 1271H2161.6M2536.7 1391H2235"/>
<g>
<use href="#ar" transform="translate(520,426) rotate(90)"/><use href="#ar" transform="translate(490,456)"/><use href="#ar" transform="translate(530,512)"/><use href="#ar" transform="translate(696,542)"/><use href="#ar" transform="translate(530,588)"/><use href="#ar" transform="translate(493,640)"/><use href="#ar" transform="translate(562,672) rotate(120)"/><use href="#ar" transform="translate(680,730) rotate(160)"/><use href="#ar" transform="translate(686,787) rotate(160)"/><use href="#ar" transform="translate(487,707)"/><use href="#ar" transform="translate(490,727) rotate(-90)"/><use href="#ar" transform="translate(490,758)"/><use href="#ar" transform="translate(525,812)"/><use href="#ar" transform="translate(494,859) rotate(-15)"/><use href="#ar" transform="translate(491,900) rotate(135)"/><use href="#ar" transform="translate(548,964) rotate(110)"/>
<use href="#ar" transform="translate(690,1020) rotate(140)"/><use href="#ar" transform="translate(686,1085) rotate(130)"/><use href="#ar" transform="translate(488,1022)"/><use href="#ar" transform="translate(491,1063)"/><use href="#ar" transform="translate(561,1110) rotate(115)"/><use href="#ar" transform="translate(475,1096) rotate(-40)"/><use href="#ar" transform="translate(475,1121) rotate(-60)"/><use href="#ar" transform="translate(502,1163) rotate(60)"/><use href="#ar" transform="translate(526,1208)"/><use href="#ar" transform="translate(694,1246)"/><use href="#ar" transform="translate(526,1278)"/><use href="#ar" transform="translate(499,1347)"/><use href="#ar" transform="translate(529,1387)"/>
<use href="#ar" transform="translate(572,1385) rotate(-90)"/><use href="#ar" transform="translate(664,1385) rotate(-90)"/><use href="#ar" transform="translate(969,1385) rotate(-90)"/><use href="#ar" transform="translate(1101,1385) rotate(-90)"/><use href="#ar" transform="translate(1387,1412) rotate(-90)"/><use href="#ar" transform="translate(1683,1370) rotate(-90)"/><use href="#ar" transform="translate(1778,1250) rotate(-90)"/><use href="#ar" transform="translate(1778,1304) rotate(-90)"/><use href="#ar" transform="translate(2003,1398) rotate(-90)"/>
<use href="#ar" transform="translate(1169,748) rotate(90)"/><use href="#ar" transform="translate(1388,725) rotate(90)"/><use href="#ar" transform="translate(1391,793) rotate(90)"/><use href="#ar" transform="translate(1680,793) rotate(90)"/><use href="#ar" transform="translate(1645,743) rotate(90)"/><use href="#ar" transform="translate(1582,736) rotate(90)"/><use href="#ar" transform="translate(1546,746) rotate(90)"/><use href="#ar" transform="translate(1823,793) rotate(90)"/><use href="#ar" transform="translate(1882,734) rotate(90)"/>
<use href="#ar" transform="translate(2264,730) rotate(180)"/><use href="#ar" transform="translate(2157,772) rotate(180)"/><use href="#ar" transform="translate(1918,783) rotate(210)"/><use href="#ar" transform="translate(2265,850) rotate(180)"/><use href="#ar" transform="translate(2194,863) rotate(-100)"/><use href="#ar" transform="translate(1866,955) rotate(110)"/><use href="#ar" transform="translate(2217,1009) rotate(180)"/><use href="#ar" transform="translate(2189,1052) rotate(180)"/><use href="#ar" transform="translate(1651,1072) rotate(190)"/><use href="#ar" transform="translate(1648,1107) rotate(200)"/><use href="#ar" transform="translate(2272,1226) rotate(100)"/><use href="#ar" transform="translate(2161,1271) rotate(180)"/><use href="#ar" transform="translate(2233,1391) rotate(180)"/>
</g>
</g>

<!-- left labels -->
<g>
<text class="l" x="217" y="383">窗帘(选购)</text>
<text class="l" x="217" y="462">床头柜(选购)</text>
<text class="l" x="217" y="514">单人床(选购)</text>
<text class="l" x="217" y="548">TV(选购)</text>
<text class="l" x="217" y="594">单人床(选购)</text>
<text class="l" x="219" y="629">台灯(选购)</text>
<text class="l" x="223" y="660">方桌</text>
<text class="l" x="223" y="687">衣柜</text>
<text class="l" x="217" y="728">手持花洒(选购)</text>
<text class="l" x="217" y="764">浴帘(选购)</text>
<text class="l" x="217" y="796">座便器(选购)</text>
<text class="l" x="217" y="847">面盆(选购)</text>
<text class="l" x="219" y="876">案几(选购)</text>
<text class="l" x="218" y="906">工艺品(选购)</text>
<text class="l" x="217" y="937">面盆(选购)</text>
<text class="l" x="223" y="1003">衣柜</text>
<text class="l" x="217" y="1033">座便器(选购)</text>
<text class="l" x="217" y="1065">浴帘(选购)</text>
<text class="l" x="223" y="1092">方桌</text>
<text class="l" x="217" y="1122">手持花洒(选购)</text>
<text class="l" x="217" y="1152">浴品架(选购)</text>
<text class="l" x="217" y="1181">床头柜(选购)</text>
<text class="l" x="217" y="1214">单人床(选购)</text>
<text class="l" x="217" y="1252">TV(选购)</text>
<text class="l" x="217" y="1284">单人床(选购)</text>
<text class="l" x="219" y="1353">台灯(选购)</text>
<text class="l" x="217" y="1393">落地灯(选购)</text>
</g>
<!-- top labels -->
<g>
<text class="l" x="1121" y="425">成品柜(选购)</text>
<text class="l" x="1337" y="385">蹲便器(选购)</text>
<text class="l" x="1337" y="428">面盆(选购)</text>
<text class="l" x="1630" y="385">成品柜(选购)</text>
<text class="l" x="1595" y="425">成品柜(选购)</text>
<text class="l" x="1533" y="468">椅子(选购)</text>
<text class="l" x="1496" y="507">办公桌(选购)</text>
<text class="l" x="1773" y="344">单人床(选购)</text>
<text class="l" x="1832" y="299">床头柜(选购)</text>
</g>
<!-- bottom labels -->
<g>
<text class="l" x="522" y="1739">沙发椅(选购)</text>
<text class="s" x="711" y="1739">沙发椅(选购)</text>
<text class="l" x="920" y="1699">小茶几(选购)</text>
<text class="l" x="1054" y="1739">圆几(选购)</text>
<text class="l" x="1341" y="1739">窗帘(选购)</text>
<text class="l" x="1640" y="1739">成品衣柜</text>
<text class="s" x="1830" y="1689">会议桌(选购)</text>
<text class="s" x="1830" y="1739">椅子(选购)</text>
<text class="s" x="2048" y="1739">成品矮柜</text>
</g>
<!-- right labels -->
<g>
<text class="s" x="2540" y="735">落地灯(选购)</text>
<text class="s" x="2540" y="778">椅子(选购)</text>
<text class="s" x="2540" y="814">LED</text>
<text class="s" x="2540" y="856">沙发(选购)</text>
<text class="s" x="2540" y="897">圆几(选购)</text>
<text class="s" x="2540" y="932">文件柜</text>
<text class="s" x="2540" y="1058">椅子(选购)</text>
<text class="s" x="2540" y="1089">案几(选购)</text>
<text class="s" x="2540" y="1133">工艺品(选购)</text>
<text class="s" x="2540" y="1197">药品柜</text>
<text class="s" x="2540" y="1277">洗涤盆(选购)</text>
<text class="s" x="2540" y="1397">单人床(选购)</text>
</g>
<ellipse cx="2569" cy="1009" rx="32" ry="32"/>
<text x="2569" y="1003" font-size="24" text-anchor="middle">23</text>
<text x="2569" y="1026" font-size="12" text-anchor="middle">5~8.9</text>

<!-- bottom title -->
<rect x="1209" y="1939" width="51" height="50"/>
<text x="1234" y="1976" font-size="28" text-anchor="middle">FF</text>
<text x="1268" y="1965" font-size="33" textLength="242">六层平面布置图</text>
<text x="1266" y="1987" font-size="20" xml:space="preserve">Scale:  1  :  75</text>

<!-- title block -->
<path d="M2731 263H2928M2731 395.6H2928"/>
<g fill="#000" stroke="none" transform="translate(2640,0) scale(.3333)">
<path d="M333 135H445V165H362V210H445V320H333V290H415V240H333Z"/>
<path d="M475 135H505V210H565V135H595V240H475Z"/>
<path d="M612 135H700V240H670V165H642V240H612Z"/>
<path d="M725 135H810V165H755V210H810V320H700V290H780V240H725Z"/>
</g>
<text x="2830" y="106" font-size="19" font-weight="700" text-anchor="middle">尚石設計</text>
<text class="serif" x="2832" y="146" font-size="36" text-anchor="middle" textLength="117" lengthAdjust="spacingAndGlyphs">DESIGN</text>
<text x="2752" y="195" font-size="13" textLength="140">尚石设计(深圳)有限公司</text>
<path d="M2752 203H2908" stroke-width="2"/>
<text class="serif" x="2751" y="226" font-size="16" textLength="137" xml:space="preserve">SHANGSHI   DESIGN</text>
<text class="serif" x="2745" y="247" font-size="16" textLength="143">(SHENZHEN)CO.,LTD</text>
<g>
<text class="n" x="2736" y="279">备注：Notes</text>
<text class="n" x="2735" y="291">1. 本设计图纸版权归本公司所有,未经本公司书面</text>
<text class="n" x="2742" y="305">同意,不得复印。</text>
<text class="n" x="2735" y="319">2. 本图纸所示设计、工程规范、建筑结构设计图纸</text>
<text class="n" x="2742" y="332">合本图纸使用时,须进行查询并配合设计师设</text>
<text class="n" x="2742" y="344">计者。</text>
<text class="n" x="2735" y="355">3. 切勿度量图纸,所有图中所注尺寸为准,重新尺</text>
<text class="n" x="2742" y="367">寸尚未核实本次施工。</text>
<text class="n" x="2735" y="379">4. 全部尺寸注释,图中所有尺寸均为毫米单位。</text>
<text class="n" x="2735" y="391">5. 未经许可不得翻印图纸无效。</text>
</g>
<rect x="2749" y="432" width="162" height="628" stroke-width="1.4"/>
<g text-anchor="middle">
<text transform="translate(2822,732) rotate(-90)" font-size="38" text-anchor="middle" letter-spacing="27.5">美莱医疗美容医院</text>
<text transform="translate(2878,760) rotate(-90)" font-size="27" text-anchor="middle">中国,深圳</text>
<text transform="translate(2806,1244) rotate(-90)" font-size="25" text-anchor="middle">六层平面布置图</text>
</g>
<path d="M2755 1079H2916" stroke-width="2"/>
<text class="serif" x="2757" y="1420" font-size="12" textLength="109" xml:space="preserve">DRAWING TITLE</text>
<text x="2900" y="1419" font-size="13" text-anchor="middle">图名</text>
<path d="M2756 1423H2916"/>
<path d="M2750 1643L2759 1627L2768 1643Z" shape-rendering="geometricPrecision"/>
<text class="serif" x="2772" y="1643" font-size="16" textLength="75">REVISIONS</text>
<text x="2881" y="1644" font-size="14.5">修改</text>
<path d="M2750 1647H2911" stroke-width="2.4"/>
<text class="t" x="2750" y="1674">审核</text><path d="M2750 1683H2911" stroke-width="2.2"/>
<text class="t" x="2749" y="1701">设计</text><path d="M2750 1710H2911" stroke-width="2.2"/>
<text class="t" x="2750" y="1730">制图</text><path d="M2750 1738H2911"/>
<text class="t" x="2749" y="1759">日期</text><text x="2809" y="1762" font-size="14">2010.04</text><path d="M2750 1767H2911"/>
<text class="t" x="2749" y="1787">比例</text><text x="2795" y="1788" font-size="14" letter-spacing="1">1:75</text><text x="2843" y="1788" font-size="14" xml:space="preserve">@ A2</text><path d="M2750 1796H2911" stroke-width="2.2"/>
<text class="t" x="2750" y="1815">阶段</text><text class="t" x="2780" y="1819">施工图</text><text class="t" x="2833" y="1815">专业</text><text class="t" x="2864" y="1820">装饰</text><path d="M2750 1825H2911" stroke-width="2.4"/>
<rect x="2749" y="1832" width="162" height="149.5" stroke-width="2"/>
<path d="M2762 1840H2899M2762 1932H2899"/>
<text class="serif" x="2762" y="1854" font-size="11">SHEET No.</text><text x="2875" y="1855" font-size="12">图号</text>
<text x="2832" y="1887" font-size="36" text-anchor="middle">FF</text>
<text x="2832" y="1922" font-size="38" text-anchor="middle">6</text>
<text class="serif" x="2762" y="1946" font-size="11">PROJECT No.</text><text x="2850" y="1946" font-size="12">工程编号</text>
<text x="2823" y="1973" font-size="19" text-anchor="middle">200908</text>
</svg>
</body>
</html>
